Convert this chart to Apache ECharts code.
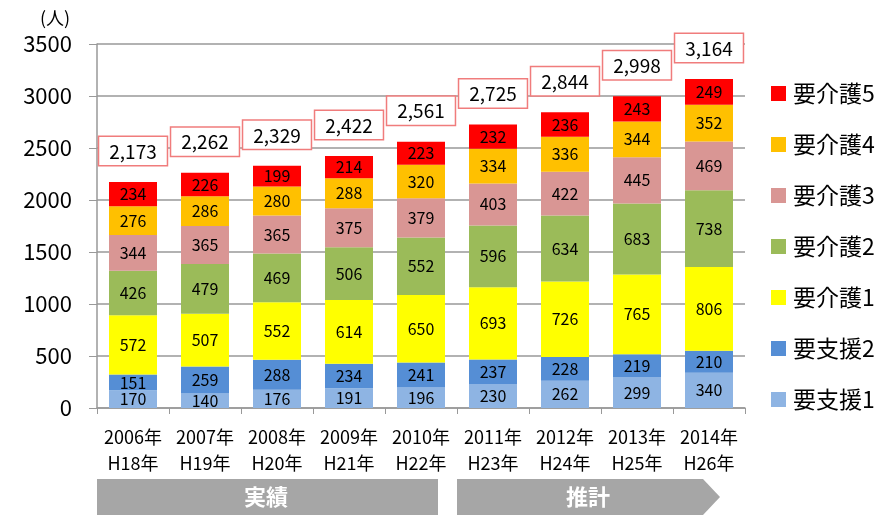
<!DOCTYPE html>
<html><head><meta charset="utf-8">
<script src="https://cdn.jsdelivr.net/npm/echarts@6/dist/echarts.min.js"></script>
<style>html,body{margin:0;padding:0;background:#fff}#c{width:887px;height:515px}</style>
</head><body><div id="c"></div>
<script>
const categories = ['2006年\nH18年','2007年\nH19年','2008年\nH20年','2009年\nH21年','2010年\nH22年','2011年\nH23年','2012年\nH24年','2013年\nH25年','2014年\nH26年'];
const shien1 = [170,140,176,191,196,230,262,299,340];
const shien2 = [151,259,288,234,241,237,228,219,210];
const kaigo1 = [572,507,552,614,650,693,726,765,806];
const kaigo2 = [426,479,469,506,552,596,634,683,738];
const kaigo3 = [344,365,365,375,379,403,422,445,469];
const kaigo4 = [276,286,280,288,320,334,336,344,352];
const kaigo5 = [234,226,199,214,223,232,236,243,249];
const totals = [2173,2262,2329,2422,2561,2725,2844,2998,3164];
const yTicks = [0,500,1000,1500,2000,2500,3000,3500];

const FONT = '"Noto Sans CJK JP", sans-serif';
const seriesDefs = [
  ['要支援1', shien1, '#8eb4e3'],
  ['要支援2', shien2, '#558ed5'],
  ['要介護1', kaigo1, '#ffff00'],
  ['要介護2', kaigo2, '#9bbb59'],
  ['要介護3', kaigo3, '#d99694'],
  ['要介護4', kaigo4, '#ffc000'],
  ['要介護5', kaigo5, '#ff0000']
];
const series = seriesDefs.map(([name, data, color]) => ({
  name, type: 'bar', stack: 'total', data, barWidth: 48, barGap: '-100%',
  itemStyle: { color }, z: 3,
  label: { show: true, position: 'inside', color: '#000', fontSize: 16, fontFamily: FONT }
}));
series.push({
  name: '合計', type: 'bar', data: totals, barWidth: 48, barGap: '-100%', z: 1,
  itemStyle: { color: 'rgba(0,0,0,0)' }, silent: true,
  label: {
    show: true, position: 'top', distance: 17,
    formatter: p => String(p.value).replace(/\B(?=(\d{3})+(?!\d))/g, ','),
    fontSize: 19, fontFamily: FONT, color: '#000',
    backgroundColor: '#fff', borderColor: '#f07c7c', borderWidth: 1.5,
    padding: [5, 10, 4, 10]
  }
});

const chart = echarts.init(document.getElementById('c'));
chart.setOption({
  animation: false,
  textStyle: { fontFamily: FONT },
  grid: { left: 97, right: 142, top: 44, bottom: 107 },
  legend: {
    orient: 'vertical', left: 766, top: 77,
    data: ['要介護5','要介護4','要介護3','要介護2','要介護1','要支援2','要支援1'],
    itemWidth: 15, itemHeight: 15, itemGap: 28,
    icon: 'rect',
    textStyle: { fontSize: 23, color: '#000', fontFamily: FONT, padding: [0,0,0,2] }
  },
  xAxis: {
    type: 'category', data: categories,
    axisLine: { lineStyle: { color: '#999', width: 1.5 } },
    axisTick: { show: true, length: 6, lineStyle: { color: '#999' } },
    axisLabel: { interval: 0, color: '#000', fontSize: 18, lineHeight: 26, margin: 16, fontFamily: FONT }
  },
  yAxis: {
    type: 'value', min: yTicks[0], max: yTicks[yTicks.length-1], interval: 500,
    axisLine: { show: true, lineStyle: { color: '#999', width: 1.5 } },
    axisTick: { show: true, length: 8, lineStyle: { color: '#999' } },
    splitLine: { lineStyle: { color: '#999', width: 1.5 } },
    axisLabel: { color: '#000', fontSize: 22, margin: 25, fontFamily: FONT, formatter: v => String(v) }
  },
  graphic: [
    { type: 'text', left: 40, top: 9, style: { text: '(人)', fontSize: 18, fill: '#000', fontFamily: FONT } },
    { type: 'rect', shape: { x: 97, y: 479, width: 341, height: 36 }, style: { fill: '#a6a6a6' } },
    { type: 'text', x: 266, y: 497, style: { text: '実績', fontSize: 22, fontWeight: 'bold', fill: '#fff', align: 'center', verticalAlign: 'middle', fontFamily: FONT } },
    { type: 'polygon', shape: { points: [[457,479],[703,479],[720,497],[703,515],[457,515]] }, style: { fill: '#a6a6a6' } },
    { type: 'text', x: 588, y: 497, style: { text: '推計', fontSize: 22, fontWeight: 'bold', fill: '#fff', align: 'center', verticalAlign: 'middle', fontFamily: FONT } }
  ],
  series
});
</script></body></html>
